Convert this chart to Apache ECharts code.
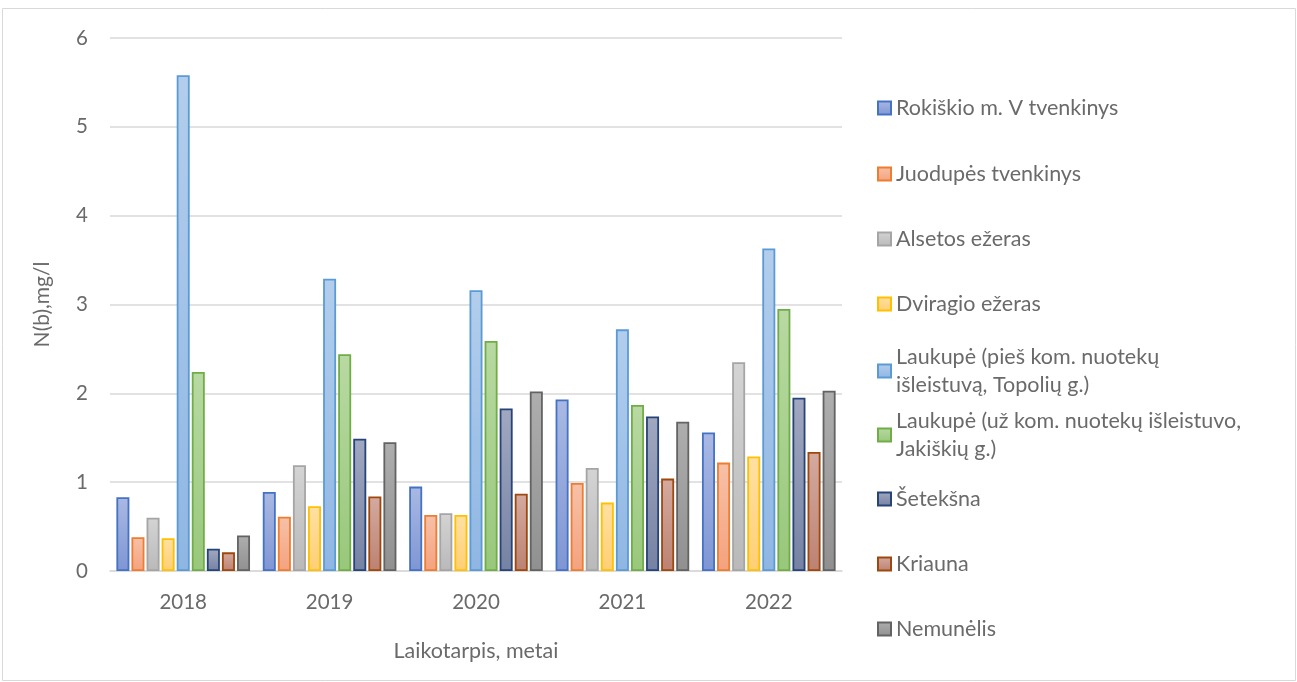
<!DOCTYPE html>
<html>
<head>
<meta charset="utf-8">
<script src="https://cdn.jsdelivr.net/npm/echarts@6/dist/echarts.min.js"></script>
<style>
html,body{margin:0;padding:0;background:#fff;}
#chart{width:1297px;height:682px;}
</style>
</head>
<body>
<div id="chart"></div>
<script>
const categories = ['2018', '2019', '2020', '2021', '2022'];
const seriesNames = [
  'Rokiškio m. V tvenkinys',
  'Juodupės tvenkinys',
  'Alsetos ežeras',
  'Dviragio ežeras',
  'Laukupė (pieš kom. nuotekų išleistuvą, Topolių g.)',
  'Laukupė (už kom. nuotekų išleistuvo, Jakiškių g.)',
  'Šetekšna',
  'Kriauna',
  'Nemunėlis'
];
const legendLabels = [
  'Rokiškio m. V tvenkinys',
  'Juodupės tvenkinys',
  'Alsetos ežeras',
  'Dviragio ežeras',
  'Laukupė (pieš kom. nuotekų\nišleistuvą, Topolių g.)',
  'Laukupė (už kom. nuotekų išleistuvo,\nJakiškių g.)',
  'Šetekšna',
  'Kriauna',
  'Nemunėlis'
];
const rokiskio   = [0.83, 0.89, 0.95, 1.93, 1.56];
const juodupes   = [0.38, 0.61, 0.63, 0.99, 1.22];
const alsetos    = [0.60, 1.19, 0.65, 1.16, 2.35];
const dviragio   = [0.37, 0.73, 0.63, 0.77, 1.29];
const laukupePies = [5.58, 3.29, 3.16, 2.72, 3.63];
const laukupeUz  = [2.24, 2.44, 2.59, 1.87, 2.95];
const seteksna   = [0.25, 1.49, 1.83, 1.74, 1.95];
const kriauna    = [0.21, 0.84, 0.87, 1.04, 1.34];
const nemunelis  = [0.40, 1.45, 2.02, 1.68, 2.03];
const yTicks = [0, 1, 2, 3, 4, 5, 6];
const allValues = [rokiskio, juodupes, alsetos, dviragio, laukupePies, laukupeUz, seteksna, kriauna, nemunelis];

const palette = [
  {border:'#4472C4', top:'#AAB9E3', bottom:'#7F96D4'},
  {border:'#ED7D31', top:'#F7C1A8', bottom:'#F4A27E'},
  {border:'#A5A5A5', top:'#D4D4D4', bottom:'#B9B9B9'},
  {border:'#FFC000', top:'#FFE0A3', bottom:'#FFCF74'},
  {border:'#5B9BD5', top:'#B3CEEC', bottom:'#8FB6E3'},
  {border:'#70AD47', top:'#B8D9A3', bottom:'#98C87B'},
  {border:'#264478', top:'#A1A8C0', bottom:'#7682A3'},
  {border:'#9E480E', top:'#D4AAA0', bottom:'#BC8272'},
  {border:'#636363', top:'#AEAEAE', bottom:'#909090'}
];
const legendCenters = [108, 174, 239, 304, 371, 435, 499, 564, 629];
const FONT = 'Lato';
const TXT = '#6a6a6a';

const chart = echarts.init(document.getElementById('chart'));

const series = seriesNames.map((name, i) => ({
  name: name,
  type: 'bar',
  data: allValues[i],
  barWidth: 13,
  barGap: '16%',
  itemStyle: {
    color: new echarts.graphic.LinearGradient(0, 0, 0, 1, [
      {offset: 0, color: palette[i].top},
      {offset: 1, color: palette[i].bottom}
    ]),
    borderColor: palette[i].border,
    borderWidth: 1.8
  },
  emphasis: {disabled: true}
}));

const legends = seriesNames.map((name, i) => {
  const twoLine = legendLabels[i].indexOf('\n') >= 0;
  return {
    data: [name],
    orient: 'vertical',
    left: 877,
    top: legendCenters[i] - (twoLine ? 42 : 14),
    padding: 0,
    itemWidth: 13,
    itemHeight: 13,
    icon: 'rect',
    selectedMode: false,
    formatter: () => legendLabels[i],
    textStyle: {
      fontFamily: FONT,
      fontSize: 21.5,
      color: TXT,
      lineHeight: 28,
      padding: twoLine ? [28, 0, 0, 0] : 0
    }
  };
});

chart.setOption({
  backgroundColor: '#fff',
  animation: false,
  graphic: [{
    type: 'rect',
    shape: {x: 2.5, y: 8.5, width: 1293, height: 672},
    style: {fill: 'none', stroke: '#d9d9d9', lineWidth: 1},
    silent: true
  }],
  legend: legends,
  grid: {left: 110, right: 455, top: 38, bottom: 111, containLabel: false},
  xAxis: {
    type: 'category',
    data: categories,
    name: 'Laikotarpis, metai',
    nameLocation: 'middle',
    nameGap: 69,
    nameTextStyle: {fontFamily: FONT, fontSize: 21.5, color: TXT},
    axisLine: {lineStyle: {color: '#d9d9d9', width: 1.5}},
    axisTick: {show: false},
    axisLabel: {fontFamily: FONT, fontSize: 20.5, color: TXT, margin: 21}
  },
  yAxis: {
    type: 'value',
    min: yTicks[0],
    max: yTicks[yTicks.length - 1],
    interval: 1,
    name: 'N(b),mg/l',
    nameLocation: 'middle',
    nameGap: 57,
    nameTextStyle: {fontFamily: FONT, fontSize: 21, color: TXT},
    axisLine: {show: false},
    axisTick: {show: false},
    axisLabel: {fontFamily: FONT, fontSize: 20.5, color: TXT, margin: 22},
    splitLine: {lineStyle: {color: '#d9d9d9', width: 1.5}}
  },
  series: series
});
</script>
</body>
</html>
